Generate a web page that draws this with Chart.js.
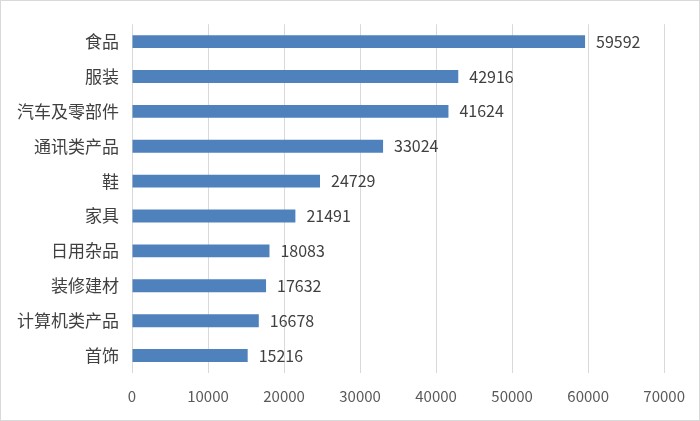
<!DOCTYPE html>
<html>
<head>
<meta charset="utf-8">
<script src="https://cdn.jsdelivr.net/npm/chart.js@4"></script>
<style>
  html, body { margin: 0; padding: 0; background: #fff; }
  #wrap { width: 700px; height: 421px; box-sizing: border-box; border: 1px solid #d9d9d9; position: relative; }
  canvas { display: block; }
</style>
</head>
<body>
<div id="wrap"><canvas id="bar-chart"></canvas></div>
<script>
// Data
const categories = ['食品', '服装', '汽车及零部件', '通讯类产品', '鞋', '家具', '日用杂品', '装修建材', '计算机类产品', '首饰'];
const values = [59592, 42916, 41624, 33024, 24729, 21491, 18083, 17632, 16678, 15216];
const xMax = 70000;
const xStep = 10000;

const fontFamily = "'Noto Sans CJK SC', 'Noto Sans', sans-serif";

// draws the value at the end of each bar
const valueLabels = {
  id: 'valueLabels',
  afterDatasetsDraw(chart) {
    const ctx = chart.ctx;
    const meta = chart.getDatasetMeta(0);
    ctx.save();
    ctx.font = '16px ' + fontFamily;
    ctx.fillStyle = '#404040';
    ctx.textAlign = 'left';
    ctx.textBaseline = 'middle';
    meta.data.forEach((bar, i) => {
      ctx.fillText(String(values[i]), bar.x + 11, bar.y);
    });
    ctx.restore();
  }
};

let barChart = null;

function renderBarChart() {
  const ctx = document.getElementById('bar-chart');
  if (barChart) barChart.destroy();
  barChart = new Chart(ctx, {
    type: 'bar',
    data: {
      labels: categories,
      datasets: [{
        data: values,
        backgroundColor: '#4f81bd',
        borderWidth: 0,
        barPercentage: 0.74,
        categoryPercentage: 0.5,
      }]
    },
    options: {
      indexAxis: 'y',
      responsive: true,
      maintainAspectRatio: false,
      animation: false,
      layout: { padding: { top: 21, right: 30, bottom: 0, left: 0 } },
      scales: {
        x: {
          min: 0, max: xMax,
          border: { display: false },
          grid: { color: '#d9d9d9', lineWidth: 1, drawTicks: false },
          ticks: {
            stepSize: xStep, color: '#595959', padding: 14,
            font: { size: 15, family: fontFamily },
            callback: v => String(v)
          },
          afterFit(scale) { scale.height = 47; }
        },
        y: {
          border: { display: false },
          grid: { display: false, drawTicks: false },
          ticks: { color: '#404040', padding: 13, font: { size: 17, family: fontFamily } },
          afterFit(scale) { scale.width = 131; }
        }
      },
      plugins: {
        legend: { display: false },
        tooltip: { enabled: false }
      }
    },
    plugins: [valueLabels]
  });
}

renderBarChart();
</script>
</body>
</html>
